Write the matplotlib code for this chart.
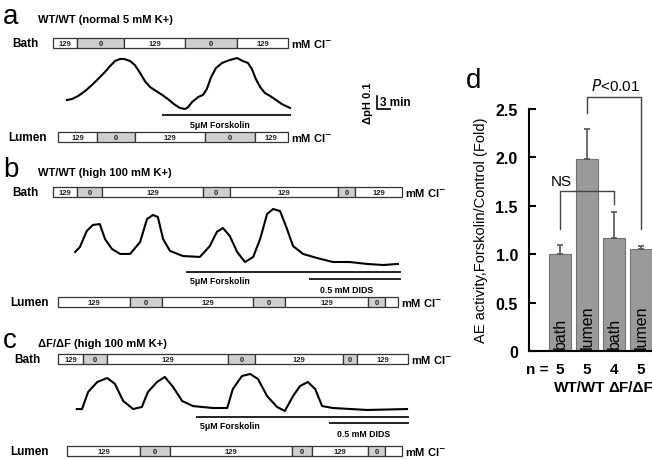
#!/usr/bin/env python3
# -*- coding: utf-8 -*-
"""pHi traces (a-c) and AE activity bars (d)."""

import numpy as np
import matplotlib
matplotlib.use('Agg')
from matplotlib import pyplot as plt
from matplotlib.patches import Rectangle
from matplotlib.transforms import blended_transform_factory

plt.rcParams['font.family'] = ['Liberation Sans', 'DejaVu Sans']
plt.rcParams['mathtext.fontset'] = 'dejavusans'

# ---------------- data ----------------
# traces: time (min) and change of pHi
a_t = [3.2, 4.4, 5.8, 7.4, 9.0, 10.4, 12.0, 13.2, 14.3, 15.5, 16.4, 17.8, 18.9,
       20.1, 21.2, 22.4, 23.8, 25.2, 26.5, 27.9, 29.3, 30.5, 31.2, 32.1, 33.5,
       34.6, 35.5, 36.5, 37.6, 39.0, 40.8, 42.5, 43.8, 45.0, 45.9, 46.8, 47.8,
       48.9, 50.1, 51.5, 52.8, 54.7]
a_ph = [0.069, 0.077, 0.100, 0.138, 0.185, 0.231, 0.285, 0.331, 0.369, 0.385,
        0.385, 0.369, 0.338, 0.277, 0.215, 0.169, 0.138, 0.108, 0.077, 0.038,
        0.008, 0.0, 0.015, 0.054, 0.092, 0.108, 0.154, 0.246, 0.315, 0.354,
        0.377, 0.392, 0.369, 0.354, 0.308, 0.231, 0.169, 0.123, 0.100, 0.069,
        0.038, 0.008]

b_t = [5.1, 6.2, 7.8, 9.2, 10.8, 12.0, 13.6, 15.5, 17.8, 20.1, 21.7, 23.1, 24.2,
       25.4, 27.0, 30.0, 33.9, 36.2, 37.8, 39.2, 40.8, 42.5, 44.3, 46.2, 47.8,
       49.4, 50.8, 52.4, 54.0, 55.4, 57.7, 60.9, 64.6, 68.5, 72.5, 76.2, 79.6]
b_ph = [0.100, 0.138, 0.262, 0.308, 0.315, 0.200, 0.123, 0.085, 0.085, 0.177,
        0.354, 0.385, 0.369, 0.200, 0.108, 0.069, 0.062, 0.146, 0.254, 0.285,
        0.223, 0.100, 0.023, 0.062, 0.200, 0.392, 0.431, 0.415, 0.277, 0.146,
        0.085, 0.054, 0.023, 0.023, 0.008, 0.0, 0.008]

c_t = [5.5, 6.7, 8.1, 10.2, 12.5, 14.3, 16.2, 18.5, 20.5, 21.9, 24.0, 25.8, 27.7,
       29.8, 32.3, 36.9, 40.2, 41.5, 43.6, 45.5, 47.3, 49.4, 51.7, 53.5, 55.4,
       57.0, 58.8, 60.5, 62.1, 64.6, 72.5, 81.7]
c_ph = [0.015, 0.015, 0.146, 0.223, 0.254, 0.208, 0.077, 0.015, 0.031, 0.146,
        0.223, 0.262, 0.185, 0.077, 0.038, 0.023, 0.023, 0.169, 0.269, 0.285,
        0.246, 0.115, 0.031, 0.0, 0.115, 0.192, 0.223, 0.169, 0.038, 0.023,
        0.008, 0.015]

# solution changes: switch times (min) and Cl- (mM)
a_bath_t = [0, 5.5, 16.4, 30.5, 42.5, 54.2]
a_bath_cl = ['129', '0', '129', '0', '129']
a_lumen_t = [1.2, 10.2, 18.9, 35.1, 46.6, 54.2]
a_lumen_cl = ['129', '0', '129', '0', '129']
a_forsk = [25.4, 54.7]

b_bath_t = [0, 5.5, 11.3, 34.6, 40.8, 65.8, 69.7, 80.5]
b_bath_cl = ['129', '0', '129', '0', '129', '0', '129']
b_lumen_t = [1.2, 17.8, 25.2, 46.2, 53.5, 72.7, 76.6, 79.6]
b_lumen_cl = ['129', '0', '129', '0', '129', '0', '']
b_forsk = [30.9, 80.1]
b_dids = [59.3, 80.1]

c_bath_t = [1.2, 6.9, 12.5, 40.4, 46.6, 66.9, 70.2, 81.9]
c_bath_cl = ['129', '0', '129', '0', '129', '0', '129']
c_lumen_t = [3.2, 20.1, 27.0, 55.2, 59.8, 72.7, 76.6, 80.5]
c_lumen_cl = ['129', '0', '129', '0', '129', '0', '']
c_forsk = [33.2, 81.9]
c_dids = [63.9, 81.9]

# panel d
d_side = ['bath', 'lumen', 'bath', 'lumen']
d_mean = [1.0, 1.98, 1.17, 1.05]
d_sem = [0.09, 0.31, 0.27, 0.03]
d_n = [5, 5, 4, 5]
d_geno = ['WT/WT', '\u0394F/\u0394F']

# ---------------- layout ----------------
W, H = 652, 460
PX_MIN = 13 / 3.0      # px per minute
PX_PH = 130.0          # px per pH unit
X0 = 53                # px of t = 0

fig = plt.figure(figsize=(W / 100, H / 100), dpi=100)
ax = fig.add_axes([0, 0, 1, 1])
ax.set_xlim(0, W)
ax.set_ylim(H, 0)
ax.axis('off')

B = dict(fontweight='bold')


def trace_axes(base):
    tax = fig.add_axes([0, 0, 1, 1])
    tax.set_xlim(-X0 / PX_MIN, (W - X0) / PX_MIN)
    tax.set_ylim((base - H) / PX_PH, base / PX_PH)
    tax.axis('off')
    return tax


def sol_bar(tax, bounds, labels, y, name, name_x, h=10):
    tr = blended_transform_factory(tax.transData, ax.transData)
    for i, lab in enumerate(labels):
        x0, x1 = bounds[i], bounds[i + 1]
        fc = '#cfcfcf' if lab == '0' else 'white'
        ax.add_patch(Rectangle((x0, y), x1 - x0, h, transform=tr, fc=fc,
                               ec='#333333', lw=0.9))
        ax.text((x0 + x1) / 2, y + h / 2 + 0.5, lab, transform=tr, ha='center',
                va='center', fontsize=5.5, color='#222222', **B)
    ax.text(name_x, y + h / 2, name, ha='left', va='center', fontsize=8.5, **B)
    ax.text(bounds[-1], y + h / 2, ' mM Cl$^{\\mathbf{-}}$', transform=tr,
            ha='left', va='center', fontsize=8, **B)


def drug_line(tax, span, y, label, lx, ly, ha='left'):
    tr = blended_transform_factory(tax.transData, ax.transData)
    ax.plot(span, [y, y], color='#222222', lw=1.4, transform=tr)
    ax.text(lx, ly, label, ha=ha, va='center', fontsize=6.3, **B)


def header(letter, title, y):
    ax.text(3, y, letter, fontsize=20, va='baseline', ha='left')
    ax.text(38, y - 1, title, fontsize=8, va='baseline', ha='left', **B)


# ---- panel a ----
axa = trace_axes(110)
header('a', 'WT/WT (normal 5 mM K+)', 24)
sol_bar(axa, a_bath_t, a_bath_cl, 39, 'Bath', 12)
axa.plot(a_t, a_ph, color='black', lw=1.5)
drug_line(axa, a_forsk, 116, '5\u03bcM Forskolin', 220, 126, ha='center')
sol_bar(axa, a_lumen_t, a_lumen_cl, 133, 'Lumen', 8)
# scale bar
axa.plot([74.8, 74.8, 77.8], [0.1, 0.0, 0.0], color='black', lw=1.2)
ax.text(380, 103, '3 min', fontsize=8.5, ha='left', va='center', **B)
ax.text(368, 103, '\u0394pH 0.1', fontsize=8, rotation=90, ha='center',
        va='center', **B)

# ---- panel b ----
axb = trace_axes(266)
header('b', 'WT/WT (high 100 mM K+)', 177)
sol_bar(axb, b_bath_t, b_bath_cl, 188, 'Bath', 12)
axb.plot(b_t, b_ph, color='black', lw=1.5)
drug_line(axb, b_forsk, 273, '5\u03bcM Forskolin', 190, 282)
drug_line(axb, b_dids, 280, '0.5 mM DIDS', 320, 291)
sol_bar(axb, b_lumen_t, b_lumen_cl, 298, 'Lumen', 10)

# ---- panel c ----
axc = trace_axes(412)
header('c', '\u0394F/\u0394F (high 100 mM K+)', 348)
sol_bar(axc, c_bath_t, c_bath_cl, 355, 'Bath', 14)
axc.plot(c_t, c_ph, color='black', lw=1.5)
drug_line(axc, c_forsk, 418, '5\u03bcM Forskolin', 200, 427)
drug_line(axc, c_dids, 424, '0.5 mM DIDS', 337, 435)
sol_bar(axc, c_lumen_t, c_lumen_cl, 447, 'Lumen', 10)

# ---- panel d ----
ax.text(466, 88, 'd', fontsize=20, va='baseline', ha='left')
axd = fig.add_axes([529 / W, (H - 352) / H, (W - 529) / W, (352 - 110) / H])
axd.set_facecolor('none')
x = np.arange(len(d_mean))
axd.bar(x, d_mean, width=0.81, color='#9a9a9a', edgecolor='#727272', lw=0.8)
axd.errorbar(x, d_mean, yerr=[np.zeros(len(d_sem)), d_sem], fmt='none',
             ecolor='#555555', elinewidth=1.2, capsize=2.5, capthick=1.2)
for i, s in enumerate(d_side):
    axd.text(x[i], 0.03, s, rotation=90, ha='center', va='bottom', fontsize=11.5)
    axd.text(x[i], -0.19, str(d_n[i]), ha='center', va='center', fontsize=11,
             clip_on=False, **B)
axd.text(-0.44, -0.19, 'n =', ha='right', va='center', fontsize=11, **B)
axd.text(0.72, -0.37, d_geno[0], ha='center', va='center', fontsize=11, **B)
axd.text(2.62, -0.37, d_geno[1], ha='center', va='center', fontsize=11, **B)

axd.set_xlim(-31 / 27, 92 / 27)
axd.set_ylim(0, 2.5)
axd.set_xticks([])
axd.set_yticks([0, 0.5, 1.0, 1.5, 2.0, 2.5])
axd.set_yticklabels(['0', '0.5', '1.0', '1.5', '2.0', '2.5'], fontsize=11.5,
                    fontweight='bold')
axd.tick_params(axis='y', direction='in', length=5, width=1.5, pad=8)
for sp in ['top', 'right']:
    axd.spines[sp].set_visible(False)
for sp in ['left', 'bottom']:
    axd.spines[sp].set_linewidth(1.5)
fig.text(481 / W, 1 - 230 / H, 'AE activity,Forskolin/Control (Fold)',
         rotation=90, ha='center', va='center', fontsize=10.5)

# significance brackets
br = dict(color='#444444', lw=1.0, clip_on=False)
axd.plot([0, 0, 2, 2], [1.26, 1.65, 1.65, 1.52], **br)
axd.text(0.05, 1.68, 'NS', ha='center', va='bottom', fontsize=11)
axd.plot([1, 1, 3, 3], [2.46, 2.62, 2.62, 1.26], **br)
axd.text(2.04, 2.67, '$P$<0.01', ha='center', va='bottom', fontsize=11)

fig.savefig('out.png', dpi=100)
